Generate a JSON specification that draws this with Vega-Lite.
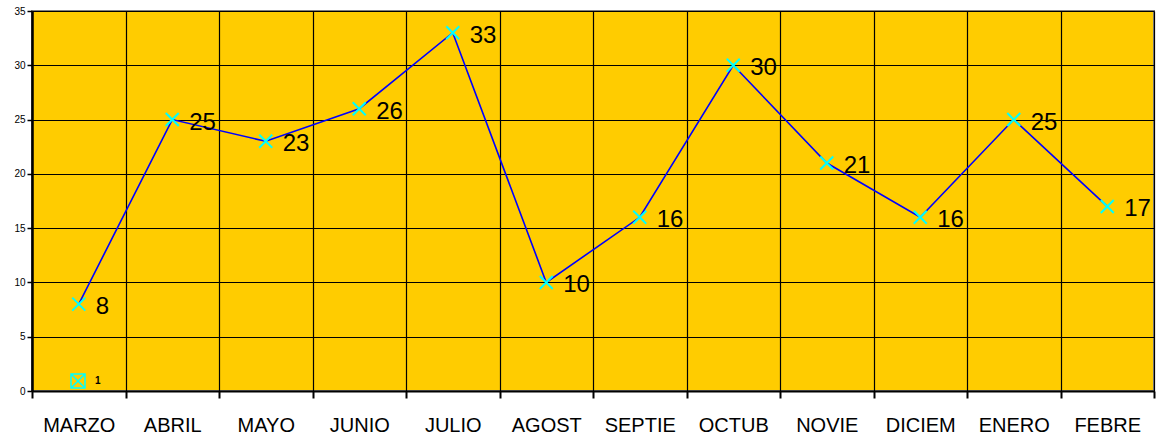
{
  "$schema": "https://vega.github.io/schema/vega-lite/v6.json",
  "width": 1122,
  "height": 380,
  "autosize": {"type": "none"},
  "padding": {"left": 32, "top": 11, "right": 10, "bottom": 48},
  "background": "#FFFFFF",
  "config": {
    "view": {"fill": "#FFCC00", "stroke": "#808080", "strokeWidth": 2},
    "font": "Liberation Sans"
  },
  "data": {
    "values": [
      {"mes": "MARZO", "valor": 8},
      {"mes": "ABRIL", "valor": 25},
      {"mes": "MAYO", "valor": 23},
      {"mes": "JUNIO", "valor": 26},
      {"mes": "JULIO", "valor": 33},
      {"mes": "AGOST", "valor": 10},
      {"mes": "SEPTIE", "valor": 16},
      {"mes": "OCTUB", "valor": 30},
      {"mes": "NOVIE", "valor": 21},
      {"mes": "DICIEM", "valor": 16},
      {"mes": "ENERO", "valor": 25},
      {"mes": "FEBRE", "valor": 17}
    ]
  },
  "encoding": {
    "x": {
      "field": "mes", "type": "ordinal", "sort": null,
      "scale": {"type": "band", "paddingInner": 0, "paddingOuter": 0},
      "axis": {
        "title": null, "labelAngle": 0, "labelFontSize": 20, "labelColor": "#000000",
        "labelPadding": 17, "bandPosition": 0, "grid": true, "gridColor": "#000000",
        "gridWidth": 1.2, "gridOpacity": 1, "tickBand": "extent",
        "ticks": true, "tickColor": "#000000", "tickSize": 7, "tickWidth": 2,
        "domainColor": "#000000", "domainWidth": 2, "labelAlign": "center"
      }
    },
    "y": {
      "field": "valor", "type": "quantitative",
      "scale": {"domain": [0, 35], "nice": false},
      "axis": {
        "title": null, "values": [0, 5, 10, 15, 20, 25, 30, 35],
        "labelFontSize": 10, "labelColor": "#000000", "labelPadding": 2,
        "grid": true, "gridColor": "#000000", "gridWidth": 1.2, "gridOpacity": 1,
        "tickColor": "#000000", "tickSize": 5, "tickWidth": 1.5,
        "domainColor": "#000000", "domainWidth": 2.5
      }
    }
  },
  "layer": [
    {
      "mark": {"type": "line", "color": "#0000FF", "strokeWidth": 1.6}
    },
    {
      "mark": {
        "type": "point", "shape": "M-1,-1L1,1M-1,1L1,-1", "filled": false,
        "size": 169, "strokeWidth": 2, "opacity": 1
      },
      "encoding": {
        "color": {
          "datum": "1",
          "scale": {"range": ["#00FFFF"]},
          "legend": {
            "title": null, "orient": "none", "legendX": 38, "legendY": 362,
            "symbolType": "M-1,-1H1V1H-1ZM-1,-1L1,1M-1,1L1,-1", "symbolSize": 196,
            "symbolStrokeColor": "#88c8e8", "symbolFillColor": "#e0ecc0",
            "symbolStrokeWidth": 1.5,
            "labelFontSize": 10, "labelFontWeight": "bold", "labelColor": "#000000",
            "labelOffset": 9
          }
        }
      }
    },
    {
      "mark": {
        "type": "text", "align": "left", "baseline": "middle",
        "dx": 17, "dy": 3, "fontSize": 24, "color": "#000000"
      },
      "encoding": {"text": {"field": "valor", "type": "quantitative"}}
    }
  ]
}
